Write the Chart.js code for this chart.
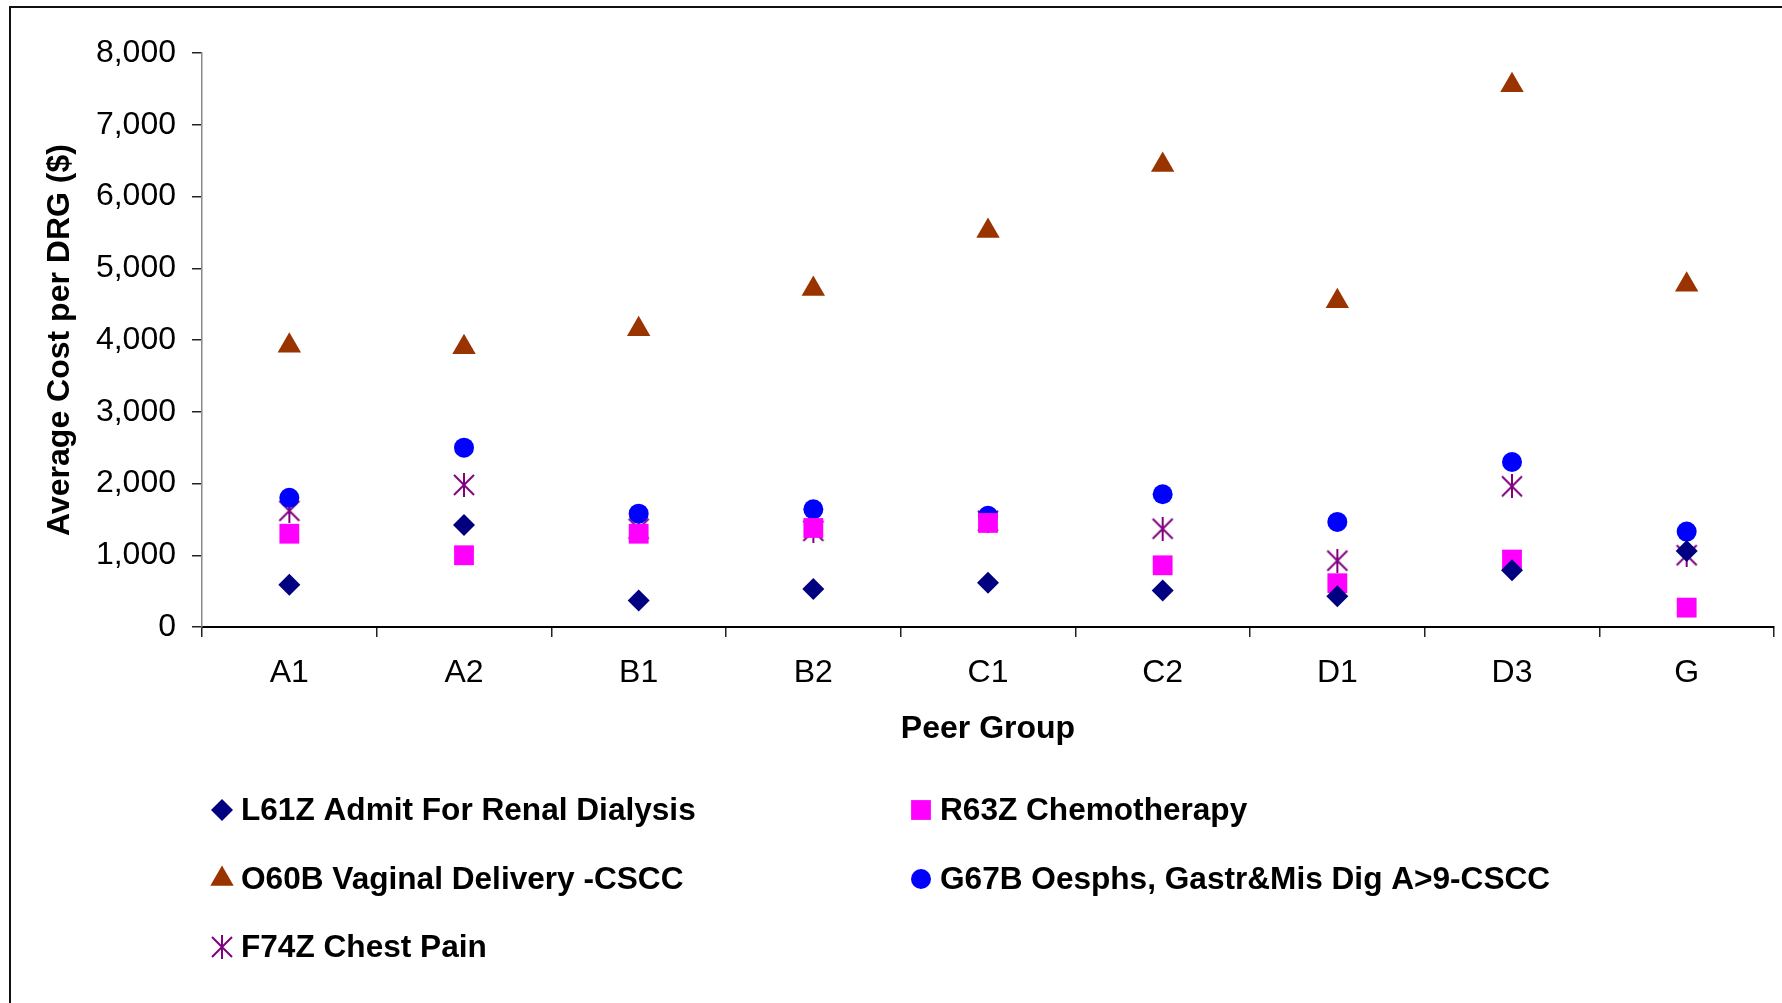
<!DOCTYPE html>
<html>
<head>
<meta charset="utf-8">
<title>Average Cost per DRG by Peer Group</title>
<script src="https://cdn.jsdelivr.net/npm/chart.js@4/dist/chart.umd.min.js"></script>
<style>
  body { margin: 0; background: #fff; }
  #wrap { width: 1782px; height: 1003px; }
</style>
</head>
<body>
<div id="wrap"><canvas id="drgCanvas" width="1782" height="1003"></canvas></div>
<script>
// Groupes de pairs (axe X)
const categories = ['A1', 'A2', 'B1', 'B2', 'C1', 'C2', 'D1', 'D3', 'G'];

// Noms des séries
const seriesNames = [
    'L61Z Admit For Renal Dialysis',
    'R63Z Chemotherapy',
    'O60B Vaginal Delivery -CSCC',
    'G67B Oesphs, Gastr&Mis Dig A>9-CSCC',
    'F74Z Chest Pain'
];

// Coût moyen par DRG ($)
const l61z = [590, 1420, 370, 530, 615, 510, 430, 790, 1060];
const r63z = [1300, 1000, 1300, 1380, 1450, 860, 610, 940, 270];
const o60b = [3920, 3900, 4150, 4710, 5520, 6440, 4540, 7550, 4770];
const g67b = [1800, 2500, 1580, 1640, 1550, 1850, 1465, 2300, 1330];
const f74z = [1620, 1980, 1370, 1340, 1480, 1370, 925, 1960, 1000];

// Graduations de l'axe Y
const yTicks = [0, 1000, 2000, 3000, 4000, 5000, 6000, 7000, 8000];

const FONT = "'Liberation Sans', Arial, sans-serif";

// Marqueur étoile façon Excel : un X avec un trait vertical
function makeStar(color) {
    const c = document.createElement('canvas');
    c.width = 24;
    c.height = 24;
    const g = c.getContext('2d');
    g.strokeStyle = color;
    g.lineWidth = 2;
    g.beginPath();
    g.moveTo(2, 2); g.lineTo(22, 22);
    g.moveTo(22, 2); g.lineTo(2, 22);
    g.moveTo(12, 0); g.lineTo(12, 24);
    g.stroke();
    return c;
}

function makeSeries(label, data, color, style, radius) {
    return {
        label: label,
        data: data,
        showLine: false,
        pointStyle: style,
        pointRadius: radius,
        pointHoverRadius: radius,
        pointBackgroundColor: color,
        pointBorderColor: color,
        pointBorderWidth: 0,
        backgroundColor: color,
        borderColor: color
    };
}

// Cadre autour du graphique (bords gauche et haut visibles)
const framePlugin = {
    id: 'frame',
    beforeDraw(chart) {
        const ctx = chart.ctx;
        ctx.save();
        ctx.fillStyle = '#fff';
        ctx.fillRect(0, 0, chart.width, chart.height);
        ctx.strokeStyle = '#111';
        ctx.lineWidth = 2;
        ctx.strokeRect(10, 7, chart.width + 20, chart.height + 20);
        ctx.restore();
    }
};

// Légende sur deux colonnes, dessinée à la main
const legendPlugin = {
    id: 'twoColLegend',
    afterDraw(chart) {
        const ctx = chart.ctx;
        const colX = [222, 921];
        const rowY = [810, 879, 947];
        ctx.save();
        chart.data.datasets.forEach((ds, i) => {
            const x = colX[i % 2];
            const y = rowY[Math.floor(i / 2)];
            ctx.fillStyle = ds.pointBackgroundColor;
            ctx.strokeStyle = ds.pointBorderColor;
            ctx.lineWidth = 0;
            Chart.helpers.drawPoint(ctx, {
                pointStyle: ds.pointStyle,
                radius: ds.pointRadius,
                rotation: 0,
                borderWidth: 0
            }, x, y);
            ctx.fillStyle = '#000';
            ctx.font = 'bold 31.6px ' + FONT;
            ctx.textAlign = 'left';
            ctx.textBaseline = 'middle';
            ctx.fillText(ds.label, x + 19, y + 1);
        });
        ctx.restore();
    }
};

const ctx = document.getElementById('drgCanvas').getContext('2d');
new Chart(ctx, {
    type: 'line',
    data: {
        labels: categories,
        datasets: [
            makeSeries(seriesNames[0], l61z, '#000080', 'rectRot', 11),
            makeSeries(seriesNames[1], r63z, '#FF00FF', 'rect', 14),
            makeSeries(seriesNames[2], o60b, '#993300', 'triangle', 13.5),
            makeSeries(seriesNames[3], g67b, '#0000FF', 'circle', 10),
            makeSeries(seriesNames[4], f74z, '#800080', makeStar('#800080'), 12)
        ]
    },
    options: {
        responsive: false,
        animation: false,
        layout: {
            autoPadding: false,
            padding: { left: 0, right: 8, top: 53, bottom: 255 }
        },
        plugins: {
            legend: { display: false },
            tooltip: { enabled: false }
        },
        scales: {
            x: {
                type: 'category',
                offset: true,
                afterFit: (s) => {
                    s.height = 121;
                    s.paddingLeft = 0;
                    s.paddingRight = 0;
                },
                grid: {
                    offset: true,
                    drawOnChartArea: false,
                    drawTicks: true,
                    tickLength: 10,
                    color: '#222',
                    lineWidth: 1.5
                },
                border: { display: true, color: '#000', width: 2 },
                ticks: {
                    color: '#000',
                    padding: 17,
                    maxRotation: 0,
                    font: { family: FONT, size: 32 }
                },
                title: {
                    display: true,
                    text: 'Peer Group',
                    color: '#000',
                    padding: { top: 0, bottom: 0 },
                    font: { family: FONT, size: 32, weight: 'bold' }
                }
            },
            y: {
                min: 0,
                max: 8000,
                afterFit: (s) => { s.width = 202; },
                afterBuildTicks: (s) => { s.ticks = yTicks.map(v => ({ value: v })); },
                grid: {
                    drawOnChartArea: false,
                    drawTicks: true,
                    tickLength: 10,
                    color: '#222',
                    lineWidth: 1.5
                },
                border: { display: true, color: '#888', width: 1.5 },
                ticks: {
                    color: '#000',
                    padding: 16,
                    font: { family: FONT, size: 32 },
                    callback: (v) => v.toLocaleString('en-US')
                },
                title: {
                    display: true,
                    text: 'Average Cost per DRG ($)',
                    color: '#000',
                    padding: { top: 41, bottom: 0 },
                    font: { family: FONT, size: 32, weight: 'bold' }
                }
            }
        }
    },
    plugins: [framePlugin, legendPlugin]
});
</script>
</body>
</html>
